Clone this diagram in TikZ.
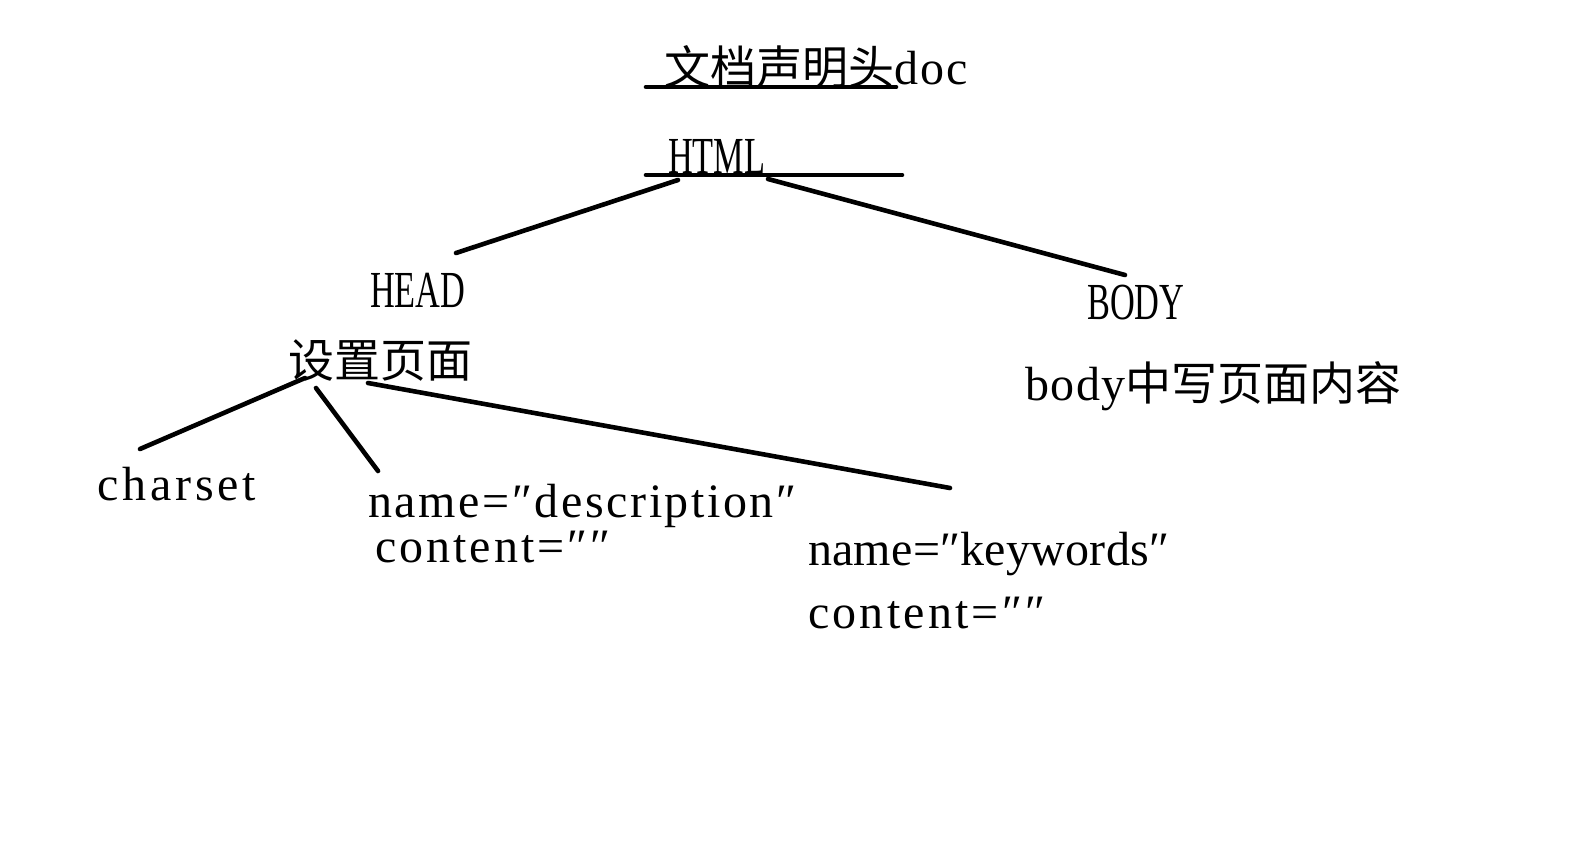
\documentclass[tikz,border=0pt]{standalone}
\usepackage{fontspec}
\setmainfont{Liberation Serif}
\newfontfamily\cjk{Noto Sans CJK SC}
\newfontfamily\capsf[FakeStretch=0.66]{Liberation Serif}
\newcommand\zh[1]{{\cjk\fontsize{46}{50}\selectfont #1}}
\newcommand\lsp[1]{\addfontfeature{LetterSpace=#1}}
\begin{document}
\begin{tikzpicture}[x=1pt,y=-1pt,
  txt/.style={anchor=base west,inner sep=0pt,font=\fontsize{48}{52}\selectfont},
  captxt/.style={anchor=base west,inner sep=0pt,font=\capsf\fontsize{52}{56}\selectfont},
  ln/.style={line width=4.6pt,line cap=round}]
\useasboundingbox[fill=white] (0,0) rectangle (1570,843);
% texts
\node[txt] (doc) at (664,84) {\zh{文档声明头}\lsp{5}doc};
\node[captxt] (html) at (668,173) {HTML};
\node[captxt] (head) at (370,307) {HEAD};
\node[captxt] (body) at (1087,319) {BODY};
\node[txt] (set) at (288,377) {\zh{设置页面}};
\node[txt] (bodytxt) at (1025,400) {\lsp{3}body\zh{中写页面内容}};
\node[txt] (charset) at (97,500) {\lsp{8}charset};
\node[txt] (desc) at (368,517) {\lsp{5.4}name=″description″};
\node[txt] (desc2) at (375,562) {\lsp{6.2}content=″″};
\node[txt] (kw) at (808,565) {\lsp{0.5}name=″keywords″};
\node[txt] (kw2) at (808,628) {\lsp{6.7}content=″″};
% connector end points
\coordinate (u1a) at (646,87);  \coordinate (u1b) at (896,87);
\coordinate (u2a) at (646,175); \coordinate (u2b) at (902,175);
\coordinate (hl) at (678,180);  \coordinate (hd) at (456,253);
\coordinate (hr) at (768,179);  \coordinate (bd) at (1125,275);
\coordinate (s1) at (305,378);  \coordinate (c1) at (140,449);
\coordinate (s2) at (316,388);  \coordinate (c2) at (378,471);
\coordinate (s3) at (368,383);  \coordinate (c3) at (950,488);
\draw[ln] (u1a) -- (u1b);
\draw[ln] (u2a) -- (u2b);
\draw[ln] (hl) -- (hd);
\draw[ln] (hr) -- (bd);
\draw[ln] (s1) -- (c1);
\draw[ln] (s2) -- (c2);
\draw[ln] (s3) -- (c3);
\end{tikzpicture}
\end{document}
